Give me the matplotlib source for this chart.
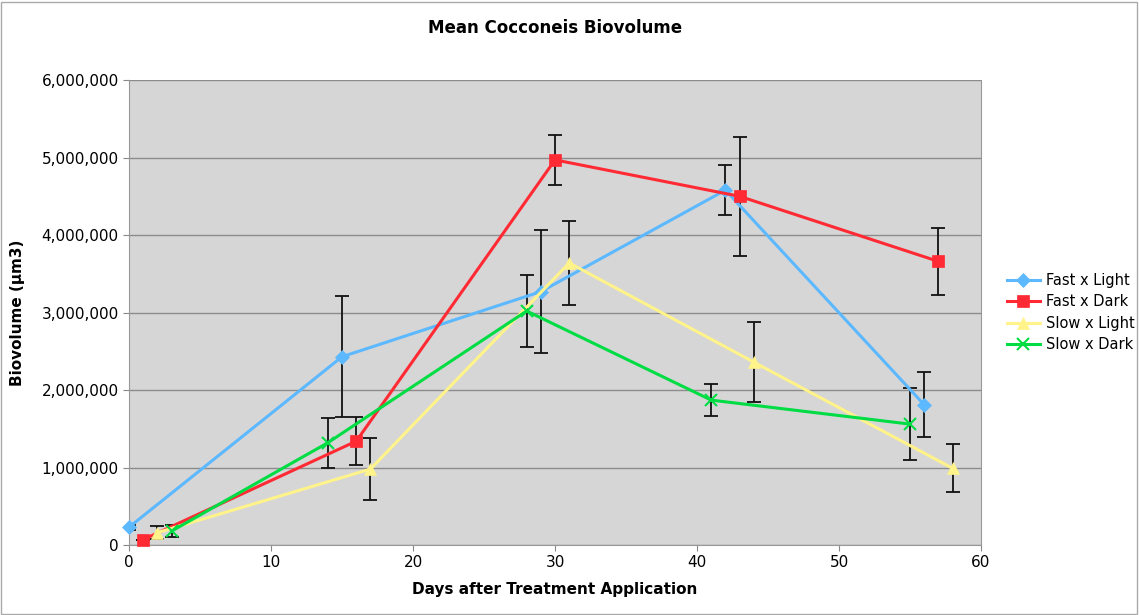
import numpy as np
import matplotlib.pyplot as plt
from matplotlib.ticker import FuncFormatter

# days and mean biovolume (um3) per treatment
fl_days = [0, 15, 29, 42, 56]
fl_mean = [230000, 2430000, 3270000, 4580000, 1810000]
fl_err = [30000, 780000, 790000, 320000, 420000]

fd_days = [1, 16, 30, 43, 57]
fd_mean = [70000, 1340000, 4970000, 4500000, 3660000]
fd_err = [0, 310000, 320000, 770000, 430000]

sl_days = [2, 17, 31, 44, 58]
sl_mean = [160000, 980000, 3640000, 2360000, 990000]
sl_err = [80000, 400000, 540000, 520000, 310000]

sd_days = [3, 14, 28, 41, 55]
sd_mean = [180000, 1320000, 3020000, 1870000, 1560000]
sd_err = [80000, 320000, 470000, 210000, 460000]

fig = plt.figure(figsize=(11.39, 6.15), dpi=100)
ax = fig.add_axes([0.1133, 0.1138, 0.748, 0.756])
ax.set_facecolor('#d6d6d6')

series = [
    (fl_days, fl_mean, fl_err, '#5cb8ff', 'D', 7, 'Fast x Light'),
    (fd_days, fd_mean, fd_err, '#ff2a33', 's', 9, 'Fast x Dark'),
    (sl_days, sl_mean, sl_err, '#fff38a', '^', 9, 'Slow x Light'),
    (sd_days, sd_mean, sd_err, '#00dd44', 'x', 9, 'Slow x Dark'),
]

for days, mean, err, col, mk, ms, lab in series:
    ax.errorbar(days, mean, yerr=err, fmt='none', ecolor='#111111',
                elinewidth=1.3, capsize=5, capthick=1.3, zorder=3)
    ax.plot(days, mean, color=col, marker=mk, markersize=ms, linewidth=2.2,
            markeredgewidth=1.5 if mk == 'x' else 0.5, markeredgecolor=col,
            label=lab, zorder=4, clip_on=False)

ax.set_xlim(0, 60)
ax.set_ylim(0, 6000000)
ax.set_xticks(range(0, 61, 10))
ax.set_yticks(range(0, 6000001, 1000000))
ax.yaxis.set_major_formatter(FuncFormatter(lambda v, p: f'{int(v):,}'))
ax.grid(axis='y', color='#8c8c8c', linewidth=1)
ax.set_axisbelow(True)
ax.spines['top'].set_visible(False)
for s in ['left', 'bottom', 'right']:
    ax.spines[s].set_color('#999999')
ax.tick_params(colors='#888888', labelcolor='black', labelsize=11, length=4)

ax.set_title('Mean Cocconeis Biovolume', fontsize=12, fontweight='bold', pad=34)
ax.set_xlabel('Days after Treatment Application', fontsize=11, fontweight='bold', labelpad=8)
ax.set_ylabel('Biovolume (µm3)', fontsize=11, fontweight='bold', labelpad=12)

ax.legend(loc='center left', bbox_to_anchor=(1.03, 0.5), frameon=False,
          fontsize=10.5, handlelength=2.3, handletextpad=0.4,
          labelspacing=0.45, borderaxespad=0, borderpad=0)

fig.patches.append(plt.Rectangle((0.001, 0.002), 0.997, 0.995, transform=fig.transFigure,
                                 fill=False, edgecolor='#aaaaaa', linewidth=1))

fig.savefig('out.png', dpi=100)
